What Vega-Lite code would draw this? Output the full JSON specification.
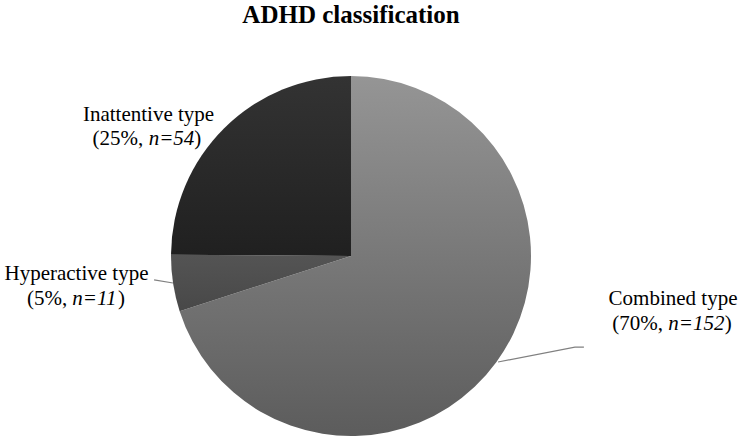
{
  "$schema": "https://vega.github.io/schema/vega-lite/v6.json",
  "autosize": "none",
  "width": 360,
  "height": 360,
  "padding": {"left": 171, "top": 76, "right": 210, "bottom": 3},
  "background": "white",
  "config": {"view": {"stroke": null}},
  "title": {
    "text": "ADHD classification",
    "font": "Liberation Serif",
    "fontSize": 25,
    "fontWeight": "bold",
    "color": "#000000",
    "anchor": "middle",
    "frame": "group",
    "baseline": "alphabetic",
    "offset": 28
  },
  "datasets": {
    "pie": [
      {"slice": "Combined type", "count": 152, "ord": 1},
      {"slice": "Hyperactive type", "count": 11, "ord": 2},
      {"slice": "Inattentive type", "count": 54, "ord": 3}
    ],
    "labels": [
      {"slice": "Inattentive type", "role": "head", "text": "Inattentive type", "x": -1.125, "y": 0.75},
      {"slice": "Inattentive type", "role": "pct", "text": "(25%,", "x": -1.154, "y": 0.617},
      {"slice": "Inattentive type", "role": "n", "text": "n=54", "x": -1.124, "y": 0.617},
      {"slice": "Inattentive type", "role": "close", "text": ")", "x": -0.871, "y": 0.617},
      {"slice": "Hyperactive type", "role": "head", "text": "Hyperactive type", "x": -1.525, "y": -0.133},
      {"slice": "Hyperactive type", "role": "pct", "text": "(5%,", "x": -1.577, "y": -0.272},
      {"slice": "Hyperactive type", "role": "n", "text": "n=11", "x": -1.548, "y": -0.272},
      {"slice": "Hyperactive type", "role": "close", "text": ")", "x": -1.294, "y": -0.272},
      {"slice": "Combined type", "role": "head", "text": "Combined type", "x": 1.789, "y": -0.272},
      {"slice": "Combined type", "role": "pct", "text": "(70%,", "x": 1.734, "y": -0.411},
      {"slice": "Combined type", "role": "n", "text": "n=152", "x": 1.763, "y": -0.411},
      {"slice": "Combined type", "role": "close", "text": ")", "x": 2.076, "y": -0.411}
    ],
    "leaders": [
      {"slice": "Hyperactive type", "seq": 1, "x": -1.094, "y": -0.133},
      {"slice": "Hyperactive type", "seq": 2, "x": -0.989, "y": -0.15},
      {"slice": "Combined type", "seq": 1, "x": 0.817, "y": -0.589},
      {"slice": "Combined type", "seq": 2, "x": 1.244, "y": -0.506},
      {"slice": "Combined type", "seq": 3, "x": 1.294, "y": -0.506}
    ]
  },
  "layer": [
    {
      "data": {"name": "pie"},
      "mark": {"type": "arc", "outerRadius": 180, "stroke": null},
      "encoding": {
        "theta": {"field": "count", "type": "quantitative", "stack": true},
        "order": {"field": "ord", "type": "quantitative"},
        "fill": {
          "condition": [
            {"test": "datum.slice === 'Combined type'", "value": {"gradient": "linear", "x1": 0, "y1": 0, "x2": 0, "y2": 1, "stops": [{"offset": 0, "color": "#959595"}, {"offset": 1, "color": "#5c5c5c"}]}},
            {"test": "datum.slice === 'Hyperactive type'", "value": {"gradient": "linear", "x1": 0, "y1": 0, "x2": 0, "y2": 1, "stops": [{"offset": 0, "color": "#545454"}, {"offset": 1, "color": "#484848"}]}}
          ],
          "value": {"gradient": "linear", "x1": 0, "y1": 0, "x2": 0, "y2": 1, "stops": [{"offset": 0, "color": "#333333"}, {"offset": 1, "color": "#202020"}]}
        }
      }
    },
    {
      "data": {"name": "leaders"},
      "mark": {"type": "line", "color": "#808080", "strokeWidth": 1.2},
      "encoding": {
        "x": {"field": "x", "type": "quantitative", "scale": {"domain": [-1, 1], "nice": false, "zero": false}, "axis": null},
        "y": {"field": "y", "type": "quantitative", "scale": {"domain": [-1, 1], "nice": false, "zero": false}, "axis": null},
        "detail": {"field": "slice"},
        "order": {"field": "seq", "type": "quantitative"}
      }
    },
    {
      "data": {"name": "labels"},
      "transform": [{"filter": "datum.role === 'head'"}],
      "mark": {"type": "text", "font": "Liberation Serif", "fontSize": 21, "align": "center", "baseline": "alphabetic", "color": "#000000"},
      "encoding": {
        "x": {"field": "x", "type": "quantitative"},
        "y": {"field": "y", "type": "quantitative"},
        "text": {"field": "text"}
      }
    },
    {
      "data": {"name": "labels"},
      "transform": [{"filter": "datum.role === 'pct'"}],
      "mark": {"type": "text", "font": "Liberation Serif", "fontSize": 21, "align": "right", "baseline": "alphabetic", "color": "#000000"},
      "encoding": {
        "x": {"field": "x", "type": "quantitative"},
        "y": {"field": "y", "type": "quantitative"},
        "text": {"field": "text"}
      }
    },
    {
      "data": {"name": "labels"},
      "transform": [{"filter": "datum.role === 'n'"}],
      "mark": {"type": "text", "font": "Liberation Serif", "fontSize": 21, "fontStyle": "italic", "align": "left", "baseline": "alphabetic", "color": "#000000"},
      "encoding": {
        "x": {"field": "x", "type": "quantitative"},
        "y": {"field": "y", "type": "quantitative"},
        "text": {"field": "text"}
      }
    },
    {
      "data": {"name": "labels"},
      "transform": [{"filter": "datum.role === 'close'"}],
      "mark": {"type": "text", "font": "Liberation Serif", "fontSize": 21, "align": "left", "baseline": "alphabetic", "color": "#000000"},
      "encoding": {
        "x": {"field": "x", "type": "quantitative"},
        "y": {"field": "y", "type": "quantitative"},
        "text": {"field": "text"}
      }
    }
  ]
}
